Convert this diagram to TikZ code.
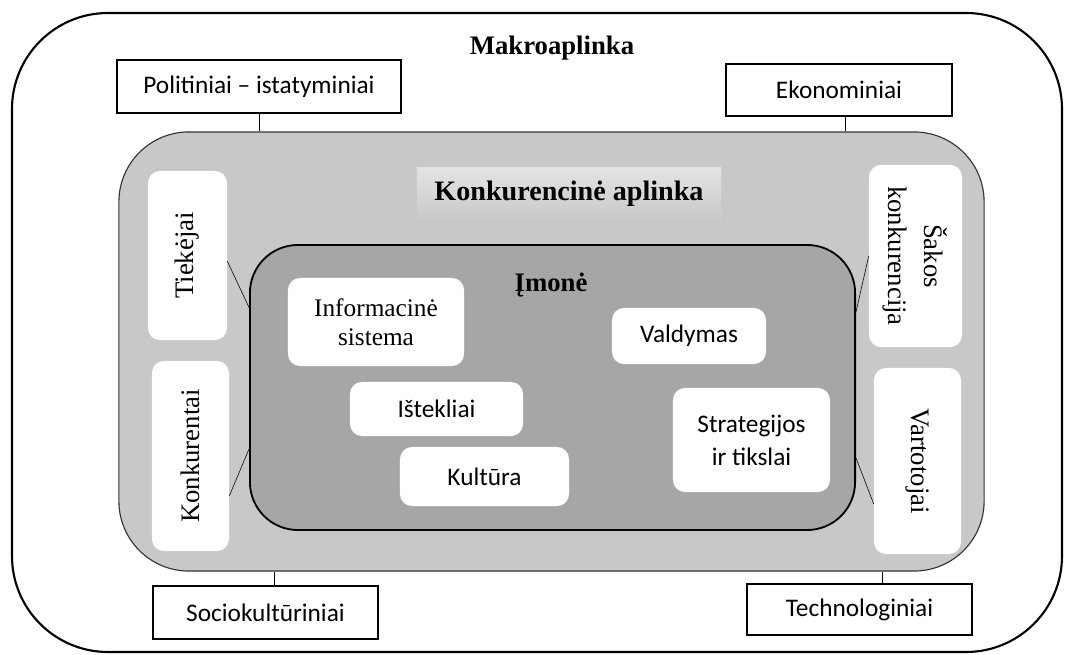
\documentclass[tikz,border=0pt]{standalone}
\usepackage{fontspec}
\setmainfont{Liberation Serif}
\newfontfamily\calibri{Carlito}
\usepackage{tikz}
\usetikzlibrary{positioning, calc}
\definecolor{konkgray}{HTML}{C8C8C8}
\definecolor{imgray}{HTML}{A6A6A6}

\begin{document}
\begin{tikzpicture}[x=0.025cm, y=-0.025cm,
    veiksnys/.style={draw=black, line width=1.3pt, fill=white, inner sep=0pt, font=\calibri\fontsize{18}{22}\selectfont},
    dalis/.style={fill=white, rounded corners=0.3cm, inner sep=0pt, align=center, font=\calibri\fontsize{18}{23.5}\selectfont},
    dalyvis/.style={fill=white, rounded corners=0.3cm, inner sep=0pt, align=center, font=\fontsize{19}{25.5}\selectfont},
    antraste/.style={font=\bfseries\fontsize{19}{23}\selectfont}]

    \useasboundingbox (0,0) rectangle (1073,655);

    % makroaplinka
    \draw[line width=1.5pt, rounded corners=2.4cm] (12,13) rectangle (1062,652);
    \node[antraste] (makro) at (552,48) {Makroaplinka};

    \node[veiksnys, minimum width=7.1cm, minimum height=1.325cm] (pol) at (259,86.5) {Politiniai – istatyminiai};
    \node[veiksnys, minimum width=5.65cm, minimum height=1.3cm] (eko) at (839,90) {Ekonominiai};
    \node[veiksnys, minimum width=5.625cm, minimum height=1.325cm] (soc) at (265.5,612.5) {Sociokultūriniai};
    \node[veiksnys, minimum width=5.625cm, minimum height=1.275cm] (tech) at (859.5,609.5) {Technologiniai};

    % konkurencine aplinka
    \node[draw=black!80, line width=0.8pt, fill=konkgray, rounded corners=1.75cm,
          minimum width=21.625cm, minimum height=10.975cm] (konk) at (551.5,351.5) {};
    \node[antraste, top color=gray!22, bottom color=gray!42, minimum width=7.6cm, minimum height=1.3cm,
          font=\bfseries\fontsize{20}{24}\selectfont] (konklabel) at (569,194) {Konkurencinė aplinka};

    \node[dalyvis, rotate=90, minimum width=4.225cm, minimum height=1.975cm] (tiek) at (187.5,255.5) {Tiekėjai};
    \node[dalyvis, rotate=90, minimum width=4.75cm, minimum height=1.925cm] (konkur) at (190.5,456) {Konkurentai};
    \node[dalyvis, rotate=-90, minimum width=4.55cm, minimum height=2.325cm] (sakos) at (915.5,256) {Šakos\\konkurencija};
    \node[dalyvis, rotate=-90, minimum width=4.65cm, minimum height=2.175cm] (vart) at (917.5,461) {Vartotojai};

    % imone
    \node[draw=black, line width=1.3pt, fill=imgray, rounded corners=1.2cm,
          minimum width=15.125cm, minimum height=7.125cm] (imone) at (552.5,387.5) {};
    \node[antraste] (imlabel) at (551,285) {Įmonė};

    \node[dalyvis, font=\fontsize{18}{21}\selectfont, minimum width=4.4cm, minimum height=2.2cm] (info) at (376,322) {Informacinė\\sistema};
    \node[dalis, minimum width=3.85cm, minimum height=1.4cm] (vald) at (689,336) {Valdymas};
    \node[dalis, minimum width=4.325cm, minimum height=1.35cm] (istek) at (436.5,409) {Ištekliai};
    \node[dalis, minimum width=4.225cm, minimum height=1.475cm] (kult) at (484.5,476.5) {Kultūra};
    \node[dalis, minimum width=3.925cm, minimum height=2.6cm] (strat) at (751.5,440) {Strategijos\\ir tikslai};

    % jungtys
    \draw (pol.south) -- (pol.south |- konk.north);
    \draw ([xshift=0.15cm]eko.south) -- ([xshift=0.15cm]eko.south |- konk.north);
    \draw ([xshift=0.225cm]soc.north) -- ([xshift=0.225cm]soc.north |- konk.south);
    \draw ([xshift=0.56cm]tech.north) -- ([xshift=0.56cm]tech.north |- konk.south);

    \draw ([yshift=-0.14cm]tiek.south) -- ([yshift=2cm]imone.west);
    \draw ([yshift=-1cm]konkur.south) -- ([yshift=-1.54cm]imone.west);
    \draw (sakos.south) -- ([yshift=1.89cm]imone.east);
    \draw ([yshift=-1.075cm]vart.south) -- ([yshift=-1.76cm]imone.east);

\end{tikzpicture}
\end{document}
